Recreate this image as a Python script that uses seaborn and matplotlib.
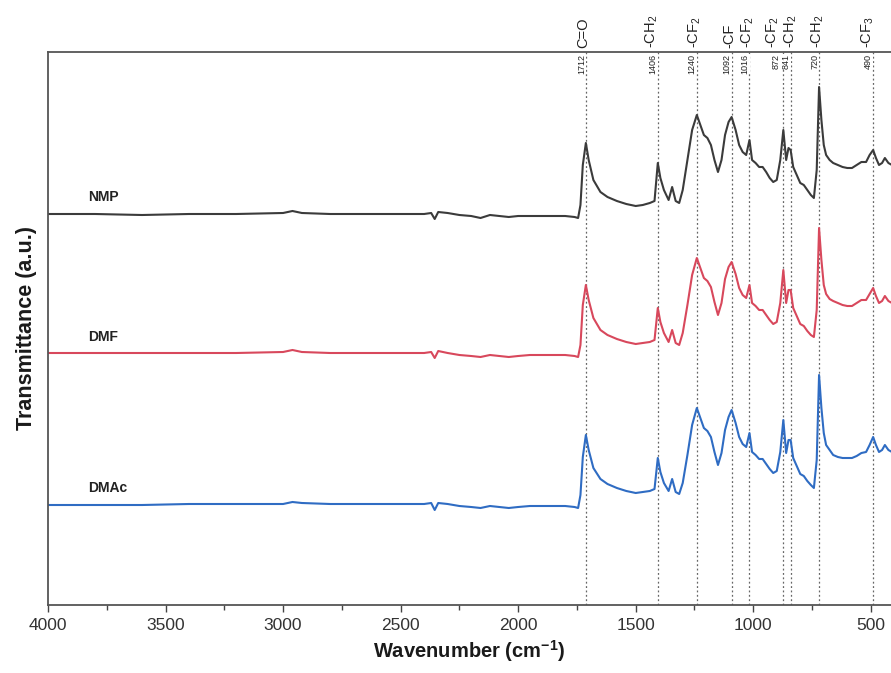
import matplotlib
matplotlib.use("Agg")
import matplotlib.pyplot as plt
import matplotlib.transforms as mtransforms
from matplotlib import font_manager
import seaborn as sns
import pandas as pd

wavenumber = [4000, 3800, 3600, 3400, 3200, 3000, 2960, 2920, 2800, 2600, 2400, 2370, 2355, 2340,
              2300, 2250, 2200, 2160, 2120, 2080, 2040, 2000, 1950, 1900, 1850, 1800, 1760, 1745,
              1735, 1725, 1712, 1700, 1680, 1650, 1620, 1580, 1540, 1500, 1470, 1440, 1420, 1406,
              1395, 1380, 1360, 1345, 1330, 1315, 1300, 1280, 1260, 1240, 1225, 1210, 1195, 1180,
              1165, 1150, 1135, 1120, 1105, 1092, 1075, 1060, 1045, 1030, 1016, 1005, 990, 975,
              960, 945, 930, 915, 900, 885, 872, 860, 850, 841, 830, 815, 800, 785, 770, 755, 742,
              730, 720, 710, 700, 690, 675, 660, 640, 620, 600, 580, 560, 540, 520, 505, 490, 478,
              465, 452, 440, 425, 410]

nmp = [391, 391, 390, 391, 391, 392, 394, 392, 391, 391, 391, 392, 386, 393,
       392, 390, 389, 387, 390, 389, 388, 389, 389, 389, 389, 389, 388, 387,
       400, 440, 462, 445, 425, 413, 408, 404, 401, 399, 400, 402, 404, 442,
       427, 415, 405, 418, 404, 402, 415, 445, 475, 490, 480, 470, 467, 460,
       445, 433, 445, 470, 483, 488, 475, 460, 453, 450, 465, 445, 442, 438,
       438, 433, 427, 423, 425, 445, 475, 445, 457, 455, 438, 430, 422, 420, 415, 410, 407,
       435, 518, 485, 460, 450, 445, 442, 440, 438, 437, 437, 440, 443, 443, 450, 455, 447,
       440, 442, 447, 442, 440]

dmf = [252, 252, 252, 252, 252, 253, 255, 253, 252, 252, 252, 253, 247, 254,
       252, 250, 249, 248, 250, 249, 248, 249, 250, 250, 250, 250, 249, 248,
       260, 300, 320, 305, 287, 275, 270, 266, 263, 261, 262, 263, 265, 297,
       283, 272, 263, 275, 262, 260, 272, 300, 330, 347, 337, 327, 324, 318,
       303, 290, 302, 326, 338, 343, 331, 317, 310, 307, 320, 302, 299, 295,
       295, 290, 285, 281, 283, 302, 335, 302, 315, 315, 297, 289, 281, 279, 274, 270, 268,
       295, 377, 345, 320, 311, 306, 304, 302, 300, 299, 299, 302, 305, 305, 311, 317, 309,
       302, 304, 309, 304, 302]

dmac = [100, 100, 100, 101, 101, 101, 103, 102, 101, 101, 101, 102, 95, 102,
        101, 99, 98, 97, 99, 98, 97, 98, 99, 99, 99, 99, 98, 97,
        110, 148, 170, 155, 137, 126, 121, 117, 114, 112, 113, 114, 116, 147,
        133, 122, 114, 126, 113, 111, 122, 150, 180, 197, 187, 177, 174, 168,
        153, 140, 152, 175, 188, 195, 182, 168, 161, 158, 172, 153, 150, 146,
        146, 141, 136, 132, 134, 153, 185, 152, 165, 165, 147, 139, 131, 129, 124, 120, 117,
        145, 230, 197, 172, 160, 155, 150, 148, 147, 147, 147, 149, 152, 153, 160, 168, 160,
        153, 155, 160, 155, 153]

series_names = ["NMP", "DMF", "DMAc"]
series_colors = ["#3b3b3b", "#d8485c", "#2f6cc3"]

band_positions = [1712, 1406, 1240, 1092, 1016, 872, 841, 720, 490]
band_numbers = ["1712", "1406", "1240", "1092", "1016", "872", "841", "720", "490"]
band_groups = ["C=O", "-CH$_2$", "-CF$_2$", "-CF", "-CF$_2$", "-CF$_2$", "-CH$_2$", "-CH$_2$", "-CF$_3$"]

x_ticks = [4000, 3500, 3000, 2500, 2000, 1500, 1000, 500]

# ---------------------------------------------------------------
sns.set_style("ticks")
names = {f.name for f in font_manager.fontManager.ttflist}
narrow = "Liberation Sans Narrow" if "Liberation Sans Narrow" in names else "Liberation Sans"
plt.rcParams["font.family"] = ["Liberation Sans", "DejaVu Sans"]
plt.rcParams["mathtext.fontset"] = "custom"
plt.rcParams["mathtext.rm"] = "Liberation Sans"
plt.rcParams["mathtext.it"] = "Liberation Sans"
plt.rcParams["mathtext.bf"] = "Liberation Sans:bold"

frames = []
for name, vals in zip(series_names, [nmp, dmf, dmac]):
    frames.append(pd.DataFrame({"wavenumber": wavenumber, "value": vals, "sample": name}))
df = pd.concat(frames, ignore_index=True)

fig = plt.figure(figsize=(8.91, 6.73), dpi=100)
ax = fig.add_axes([48 / 891, 68 / 673, 1 - 48 / 891, (605 - 52) / 673])

sns.lineplot(data=df, x="wavenumber", y="value", hue="sample", hue_order=series_names,
             palette=series_colors, estimator=None, sort=False, legend=False,
             linewidth=1.5, ax=ax)

ax.set_xlim(4000, 414)
ax.set_ylim(0, 553)
ax.set_yticks([])
ax.set_xticks(x_ticks)
ax.set_xticklabels([str(t) for t in x_ticks], fontfamily=narrow, fontsize=12.5, color="#333333")
ax.set_xticks([3750, 3250, 2750, 2250, 1750, 1250, 750], minor=True)
ax.tick_params(axis="x", which="major", direction="out", length=5, width=1, color="#444444", pad=4)
ax.tick_params(axis="x", which="minor", direction="out", length=3.5, width=1, color="#444444")

for side in ["left", "bottom", "top"]:
    ax.spines[side].set_color("#555555")
    ax.spines[side].set_linewidth(1.3)
ax.spines["right"].set_visible(False)

ax.set_xlabel("Wavenumber (cm$^{\\mathbf{-1}}$)", fontsize=14.5, fontweight="bold", labelpad=4,
              color="#1a1a1a")
ax.set_ylabel("Transmittance (a.u.)", fontsize=15.5, fontweight="bold", labelpad=8,
              color="#1a1a1a")

# horizontal pixel nudges of the labels above and just below the top frame
label_dx = [-3, -6, -2, -2, -2, -11, 0, -1, -5]
number_dx = [0, 0, 0, 0, 0, -2.5, 0.5, 0, 0]

trans = mtransforms.blended_transform_factory(ax.transData, ax.transAxes)
for pos, num, grp, dx, ndx in zip(band_positions, band_numbers, band_groups, label_dx, number_dx):
    ax.axvline(pos, color="#666666", linestyle=(0, (1.5, 2)), linewidth=0.9, zorder=0)
    ax.annotate(grp, xy=(pos, 1.0), xycoords=trans, xytext=(dx * 0.72, 3),
                textcoords="offset points", rotation=90, ha="center", va="bottom",
                fontsize=10.5, color="#222222", annotation_clip=False)
    ax.annotate(num, xy=(pos, 1.0), xycoords=trans, xytext=(ndx * 0.72, -1.5),
                textcoords="offset points", rotation=90, ha="right", va="top",
                fontsize=6.5, color="#222222", fontfamily=narrow,
                bbox=dict(facecolor="white", edgecolor="none", pad=0.1))

label_y = [408, 268, 117]
for name, yv in zip(series_names, label_y):
    ax.text(3830, yv, name, fontsize=10, fontweight="bold", color="#222222", va="center", ha="left")

fig.savefig("out.png", dpi=100)
